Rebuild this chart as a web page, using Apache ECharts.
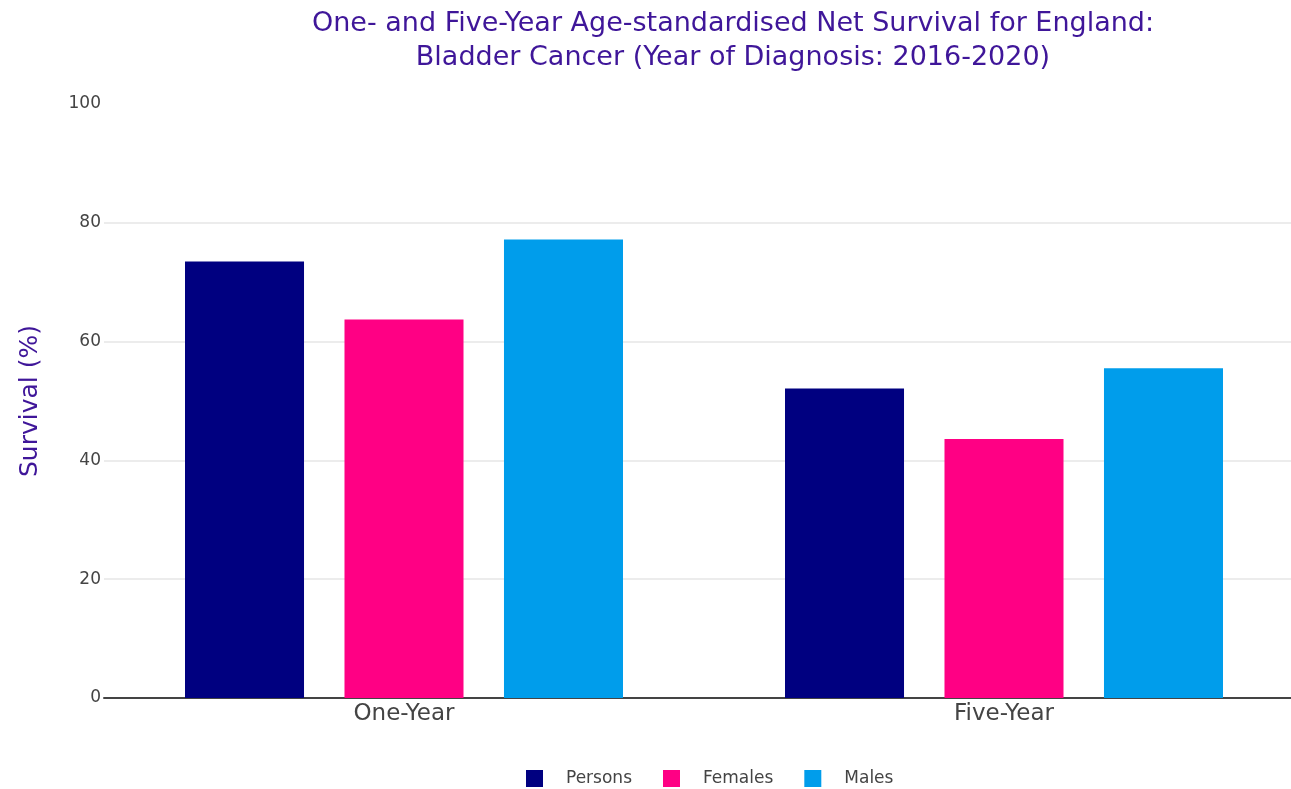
<!DOCTYPE html>
<html>
<head>
<meta charset="utf-8">
<script src="https://cdn.jsdelivr.net/npm/echarts@6/dist/echarts.min.js"></script>
<style>
html,body{margin:0;padding:0;background:#fff;}
#chart{width:1291px;height:789px;}
</style>
</head>
<body>
<div id="chart"></div>
<script>
const categories = ['One-Year', 'Five-Year'];
const seriesNames = ['Persons', 'Females', 'Males'];
const persons = [73.5, 52.1];
const females = [63.7, 43.6];
const males = [77.2, 55.5];
const colors = ['#000080', '#FF0084', '#009DEB'];
const titleLines = ['One- and Five-Year Age-standardised Net Survival for England:', 'Bladder Cancer (Year of Diagnosis: 2016-2020)'];
const yAxisName = 'Survival (%)';

const font = '"DejaVu Sans", Verdana, sans-serif';
const chart = echarts.init(document.getElementById('chart'), null, {renderer: 'canvas'});
const data = [persons, females, males];
chart.setOption({
  animation: false,
  backgroundColor: '#fff',
  title: {
    text: titleLines.join('\n'),
    left: 733,
    textAlign: 'center',
    top: 7,
    padding: 0,
    textStyle: {fontFamily: font, fontSize: 27, fontWeight: 'normal', color: '#3F1699', lineHeight: 34}
  },
  legend: {
    bottom: 2,
    left: 526,
    padding: 0,
    icon: 'rect',
    itemWidth: 17,
    itemHeight: 17,
    itemGap: 31,
    data: seriesNames,
    textStyle: {fontFamily: font, fontSize: 17, color: '#444', padding: [0, 0, 0, 18]}
  },
  grid: {left: 104, width: 1200, top: 104, bottom: 91, containLabel: false, outerBoundsMode: 'none'},
  xAxis: {
    type: 'category',
    data: categories,
    axisLine: {lineStyle: {color: '#444', width: 2}},
    axisTick: {show: false},
    axisLabel: {fontFamily: font, fontSize: 23, color: '#444', margin: 5}
  },
  yAxis: {
    type: 'value',
    min: 0, max: 100, interval: 20,
    name: yAxisName,
    nameLocation: 'middle',
    nameGap: 61,
    nameTextStyle: {fontFamily: font, fontSize: 25, color: '#3F1699'},
    axisLine: {show: false},
    axisTick: {show: false},
    axisLabel: {fontFamily: font, fontSize: 17, color: '#444', margin: 3},
    splitLine: {show: true, showMaxLine: false, lineStyle: {color: '#e6e6e6', width: 1.5}}
  },
  series: seriesNames.map((n, i) => ({
    name: n,
    type: 'bar',
    data: data[i],
    itemStyle: {color: colors[i]},
    barGap: '34%',
    barCategoryGap: '27%'
  }))
});
</script>
</body>
</html>
